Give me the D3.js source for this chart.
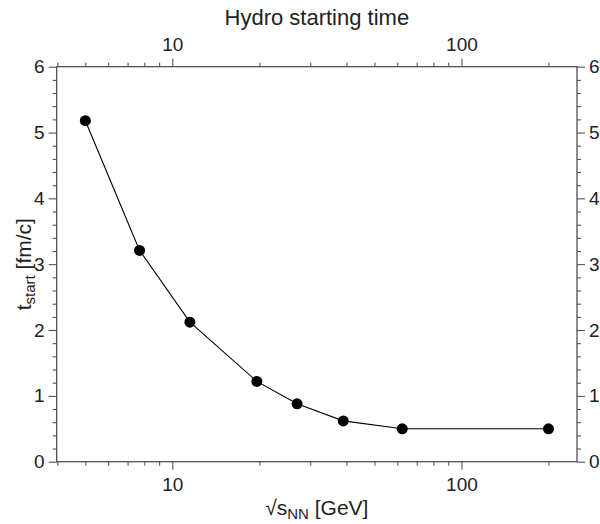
<!DOCTYPE html>
<html>
<head>
<meta charset="utf-8">
<script src="https://cdn.jsdelivr.net/npm/d3@7"></script>
<style>
  body { margin: 0; background: #fff; }
  svg text { font-family: "Liberation Sans", Arial, sans-serif; fill: #222; }
</style>
</head>
<body>
<div id="chart"></div>
<script>
// data
var energies = [5, 7.7, 11.5, 19.6, 27, 39, 62.4, 200];
var tStart = [5.18, 3.21, 2.12, 1.22, 0.88, 0.62, 0.50, 0.50];
var xMajorTicks = [10, 100];
var xMinorTicks = [4, 5, 6, 7, 8, 9, 20, 30, 40, 50, 60, 70, 80, 90, 200];
var yMajorTicks = [0, 1, 2, 3, 4, 5, 6];

var W = 600, H = 524;
var margin = { top: 66.7, right: 23, bottom: 62.3, left: 56.7 };
var width = W - margin.left - margin.right,
    height = H - margin.top - margin.bottom;

var svg = d3.select("#chart").append("svg")
    .attr("width", W)
    .attr("height", H);

var g = svg.append("g")
    .attr("transform", "translate(" + margin.left + "," + margin.top + ")");

var x = d3.scaleLog().domain([3.98, 251]).range([0, width]);
var y = d3.scaleLinear().domain([0, 6]).range([height, 0]);

var yMinor = d3.range(0, 6.01, 0.2).filter(function (v) { return Math.abs(v - Math.round(v)) > 0.01; });

function styleAxis(sel) {
    sel.select(".domain").remove();
    sel.attr("font-size", 19).attr("font-family", null);
    sel.selectAll(".tick line").attr("stroke", "#444").attr("stroke-width", 1);
    sel.selectAll(".tick text").attr("fill", "#222");
}

// bottom
g.append("g").attr("transform", "translate(0," + height + ")")
    .call(d3.axisBottom(x).tickValues(xMinorTicks).tickSize(4).tickFormat(""))
    .call(styleAxis);
g.append("g").attr("transform", "translate(0," + height + ")")
    .call(d3.axisBottom(x).tickValues(xMajorTicks).tickSize(8).tickPadding(8).tickFormat(d3.format("d")))
    .call(styleAxis);

// top
g.append("g")
    .call(d3.axisTop(x).tickValues(xMinorTicks).tickSize(4).tickFormat(""))
    .call(styleAxis);
g.append("g")
    .call(d3.axisTop(x).tickValues(xMajorTicks).tickSize(8).tickPadding(8).tickFormat(d3.format("d")))
    .call(styleAxis);

// left
g.append("g")
    .call(d3.axisLeft(y).tickValues(yMinor).tickSize(4).tickFormat(""))
    .call(styleAxis);
g.append("g")
    .call(d3.axisLeft(y).tickValues(yMajorTicks).tickSize(8).tickPadding(4).tickFormat(d3.format("d")))
    .call(styleAxis);

// right
g.append("g").attr("transform", "translate(" + width + ",0)")
    .call(d3.axisRight(y).tickValues(yMinor).tickSize(4).tickFormat(""))
    .call(styleAxis);
g.append("g").attr("transform", "translate(" + width + ",0)")
    .call(d3.axisRight(y).tickValues(yMajorTicks).tickSize(8).tickPadding(4).tickFormat(d3.format("d")))
    .call(styleAxis);

// frame
g.append("rect")
    .attr("width", width)
    .attr("height", height)
    .attr("fill", "none")
    .attr("stroke", "#444")
    .attr("stroke-width", 1.2);

var pts = energies.map(function (e, i) { return [e, tStart[i]]; });

var line = d3.line()
    .x(function (d) { return x(d[0]); })
    .y(function (d) { return y(d[1]); });

g.append("path")
    .datum(pts)
    .attr("fill", "none")
    .attr("stroke", "#000")
    .attr("stroke-width", 1.1)
    .attr("d", line);

g.selectAll(".dot")
    .data(pts)
    .enter().append("circle")
    .attr("class", "dot")
    .attr("cx", function (d) { return x(d[0]); })
    .attr("cy", function (d) { return y(d[1]); })
    .attr("r", 5.5)
    .attr("fill", "#000");

// titles
svg.append("text")
    .attr("x", margin.left + width / 2)
    .attr("y", 25)
    .attr("text-anchor", "middle")
    .style("font-size", "22px")
    .text("Hydro starting time");

var xl = svg.append("text")
    .attr("x", margin.left + width / 2)
    .attr("y", 515)
    .attr("text-anchor", "middle")
    .style("font-size", "21px");
xl.append("tspan").text("\u221As");
xl.append("tspan").attr("dy", 4).style("font-size", "15px").text("NN");
xl.append("tspan").attr("dy", -4).text(" [GeV]");

var yl = svg.append("text")
    .attr("transform", "translate(31," + (margin.top + height / 2) + ") rotate(-90)")
    .attr("text-anchor", "middle")
    .style("font-size", "21px");
yl.append("tspan").text("t");
yl.append("tspan").attr("dy", 4).style("font-size", "15px").text("start");
yl.append("tspan").attr("dy", -4).text(" [fm/c]");
</script>
</body>
</html>
